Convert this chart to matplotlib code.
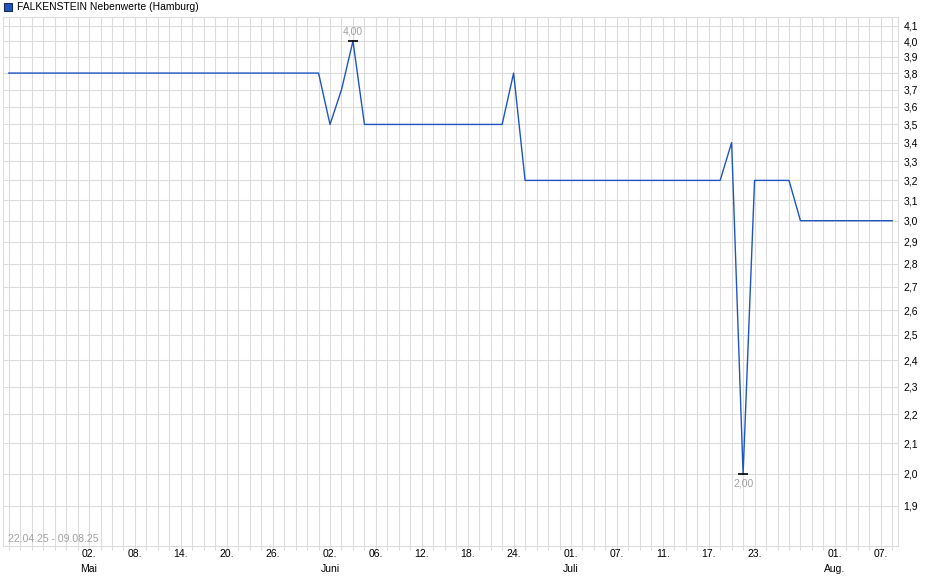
import numpy as np
import pandas as pd
from matplotlib import pyplot as plt
from matplotlib.patches import Rectangle
from matplotlib.ticker import FixedLocator, NullLocator, NullFormatter

# Handelstage Hamburg 22.04.25 - 08.08.25 (1. Mai geschlossen)
dates = pd.bdate_range("2025-04-22", "2025-08-08", freq="C", holidays=["2025-05-01"])

# Schlusskurse je Handelstag
prices = [3.8, 3.8, 3.8, 3.8, 3.8, 3.8, 3.8,           # 22.04 - 30.04
          3.8, 3.8, 3.8, 3.8, 3.8, 3.8, 3.8, 3.8, 3.8,  # 02.05 - 14.05
          3.8, 3.8, 3.8, 3.8, 3.8, 3.8, 3.8, 3.8, 3.8,  # 15.05 - 27.05
          3.8, 3.8, 3.8,                                # 28.05 - 30.05
          3.5, 3.7, 4.0,                                # 02.06 - 04.06
          3.5, 3.5, 3.5, 3.5, 3.5, 3.5, 3.5, 3.5, 3.5,  # 05.06 - 17.06
          3.5, 3.5, 3.5, 3.5,                           # 18.06 - 23.06
          3.8,                                          # 24.06
          3.2, 3.2, 3.2, 3.2, 3.2, 3.2, 3.2, 3.2, 3.2,  # 25.06 - 07.07
          3.2, 3.2, 3.2, 3.2, 3.2, 3.2, 3.2, 3.2, 3.2,  # 08.07 - 18.07
          3.4, 2.0,                                     # 21.07 - 22.07
          3.2, 3.2, 3.2, 3.2,                           # 23.07 - 28.07
          3.0, 3.0, 3.0, 3.0, 3.0, 3.0, 3.0, 3.0, 3.0]  # 29.07 - 08.08

label_days = ["2025-05-02", "2025-05-08", "2025-05-14", "2025-05-20", "2025-05-26",
              "2025-06-02", "2025-06-06", "2025-06-12", "2025-06-18", "2025-06-24",
              "2025-07-01", "2025-07-07", "2025-07-11", "2025-07-17", "2025-07-23",
              "2025-08-01", "2025-08-07"]
month_names = {"2025-05-02": "Mai", "2025-06-02": "Juni", "2025-07-01": "Juli", "2025-08-01": "Aug."}

y_ticks = [1.9, 2.0, 2.1, 2.2, 2.3, 2.4, 2.5, 2.6, 2.7, 2.8, 2.9,
           3.0, 3.1, 3.2, 3.3, 3.4, 3.5, 3.6, 3.7, 3.8, 3.9, 4.0, 4.1]

title = "FALKENSTEIN Nebenwerte (Hamburg)"
period = "22.04.25 - 09.08.25"

plt.rcParams['font.family'] = ['Liberation Sans', 'DejaVu Sans']

W, H = 940, 579
fig = plt.figure(figsize=(W / 100, H / 100), dpi=100)
ax = fig.add_axes([3 / W, 1 - 546 / H, 895 / W, 529 / H])

x = np.arange(len(dates))
line_color = "#1f55c0"
grid_color = "#dcdcdc"

ax.plot(x, prices, color=line_color, lw=1.0, zorder=3)

# Maximum / Minimum markieren
i_max = int(np.argmax(prices))
i_min = int(np.argmin(prices))
ax.plot([i_max, i_min], [prices[i_max], prices[i_min]], ls="none", marker="_",
        ms=7, mew=1.2, color="black", zorder=4)
ax.annotate("{:.2f}".format(prices[i_max]).replace(".", ","), (i_max, prices[i_max]),
            xytext=(0, 3), textcoords="offset points", ha="center", va="bottom",
            fontsize=7.5, color="#a0a0a0")
ax.annotate("{:.2f}".format(prices[i_min]).replace(".", ","), (i_min, prices[i_min]),
            xytext=(0, -3), textcoords="offset points", ha="center", va="top",
            fontsize=7.5, color="#a0a0a0")

ax.set_yscale("log")
ax.set_ylim(1.782, 4.157)
ax.set_xlim(-0.5, len(dates) - 0.5)

ax.yaxis.set_major_locator(FixedLocator(y_ticks))
ax.yaxis.set_minor_locator(NullLocator())
ax.yaxis.set_minor_formatter(NullFormatter())
ax.set_yticklabels(["{:.1f}".format(v).replace(".", ",") for v in y_ticks])
ax.yaxis.tick_right()
ax.tick_params(axis="y", length=0, pad=4, labelsize=7.5, colors="black")

# x-Achse: jeder Handelstag ein Gitterstrich, nur ausgewählte beschriftet
ax.set_xticks(x)
day_str = [d.strftime("%Y-%m-%d") for d in dates]
xlabels = []
for d, s in zip(dates, day_str):
    if s in label_days:
        lab = d.strftime("%d.")
        if s in month_names:
            lab += "\n" + month_names[s]
        xlabels.append(lab)
    else:
        xlabels.append("")
ax.set_xticklabels(xlabels, fontsize=7.5, linespacing=1.6)
ax.tick_params(axis="x", length=3, width=0.8, color=grid_color, pad=-1)
for t in ax.get_xticklabels():
    t.set_verticalalignment("top")

ax.grid(True, color=grid_color, lw=0.8)
ax.set_axisbelow(True)
for sp in ax.spines.values():
    sp.set_color(grid_color)
    sp.set_linewidth(0.8)

ax.text(5 / 895, 7 / 529, period, transform=ax.transAxes, fontsize=7.5,
        color="#a0a0a0", ha="left", va="center")

# Legende oben links
fig.patches.append(Rectangle((4 / W, 1 - 11 / H), 8 / W, 8 / H, transform=fig.transFigure,
                             facecolor=line_color, edgecolor="#1a2a50", lw=0.8))
fig.text(17 / W, 1 - 7 / H, title, fontsize=7.5, ha="left", va="center")

fig.savefig("out.png", dpi=100)
